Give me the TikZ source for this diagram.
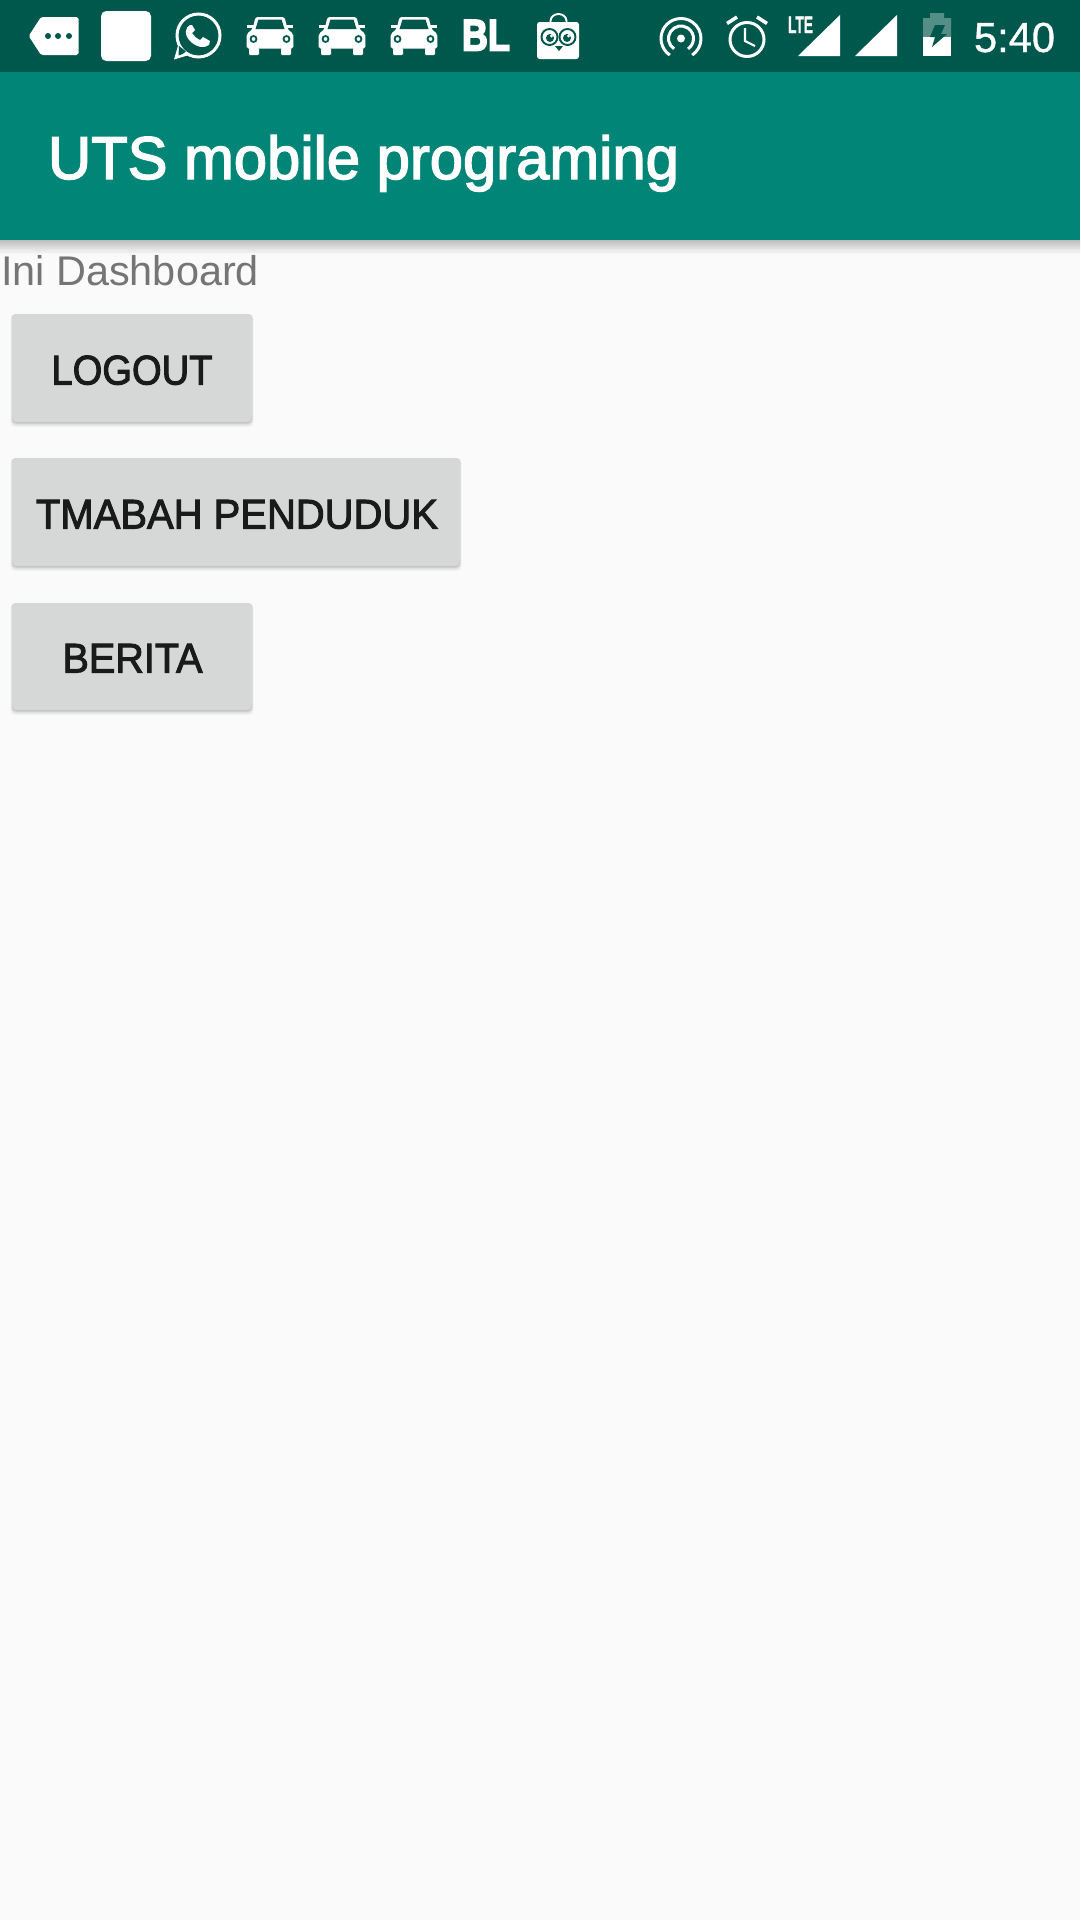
\documentclass[tikz,border=0pt]{standalone}
\usepackage{fontspec}
\setmainfont{Liberation Sans}
\newfontfamily\regfont[FakeBold=0.8]{Liberation Sans}
\newfontfamily\medfont[FakeBold=2.4]{Liberation Sans}
\newfontfamily\boldfont[FakeBold=1.5]{Liberation Sans Bold}
\newfontfamily\heavyfont[FakeBold=4]{Liberation Sans Bold}
\definecolor{statusbar}{HTML}{00574B}
\definecolor{appbar}{HTML}{008577}
\definecolor{pagebg}{HTML}{FAFAFA}
\definecolor{btnfill}{HTML}{D6D7D7}
\definecolor{btntext}{HTML}{1A1A1A}
\definecolor{labelgray}{HTML}{757575}
\newlength\pxu \setlength\pxu{0.02cm}
\newcommand{\fitw}[2]{\resizebox{#1\pxu}{\height}{#2}}
\tikzset{
  x=0.02cm,y=-0.02cm,
  txt/.style={inner sep=0pt,outer sep=0pt,anchor=base west},
  btn/.style={fill=btnfill,rounded corners=2.5pt,draw=none},
  ring/.style={draw=white,line width=1.7pt,fill=none},
}
\newcommand{\carat}[1]{%
\begin{scope}[shift={(#1,0)}]
\fill[white,rounded corners=1pt] (-23.3,48.5)--(-23.3,34)--(-17.5,29)--(-14.5,17)--(14.5,17)--(17.5,29)--(23.3,34)--(23.3,48.5)--cycle;
\fill[white] (-23,25) rectangle (-16,28);
\fill[white] (16,25) rectangle (23,28);
\fill[statusbar] (-14.5,29)--(-11.5,19.5)--(11.5,19.5)--(14.5,29)--cycle;
\draw[statusbar,line width=1pt,fill=white] (-16.5,39) circle (3);
\draw[statusbar,line width=1pt,fill=white] (16.5,39) circle (3);
\fill[white,rounded corners=0.6pt] (-21,48)--(-21,55)--(-11,55)--(-11,48)--cycle;
\fill[white,rounded corners=0.6pt] (11,48)--(11,55)--(21,55)--(21,48)--cycle;
\end{scope}}
\begin{document}
\begin{tikzpicture}
\useasboundingbox (0,0) rectangle (1080,1920);
\fill[pagebg] (0,0) rectangle (1080,1920);
% app bar shadow
\shade[top color=black!24!pagebg,bottom color=pagebg] (0,240) rectangle (1080,254);
\fill[appbar] (0,72) rectangle (1080,240);
\fill[statusbar] (0,0) rectangle (1080,72);
% title
\node[txt,text=white,font=\medfont\fontsize{34.4}{40}\selectfont] (title) at (48,179) {\fitw{631}{UTS mobile programing}};
\node[txt,text=labelgray,font=\fontsize{23.6}{28}\selectfont] (lbl) at (1,285) {\fitw{258}{Ini Dashboard}};
% buttons
\foreach \xa/\xb/\ya/\yb in {12/252/314/422,12/460/458/566,12/252/603/710}{
 \foreach \d/\e/\o in {5/1.5/3,4/1/4,2.5/.5/6,1.5/0/8}{\fill[black,opacity=0.0\o,rounded corners=2.5pt] (\xa-\e,\ya) rectangle (\xb+\e,\yb+\d);}
 \fill[btn] (\xa,\ya) rectangle (\xb,\yb);
}
\node[txt,text=btntext,font=\medfont\fontsize{23.6}{28}\selectfont] (b1) at (51.5,384.5) {\fitw{161}{LOGOUT}};
\node[txt,text=btntext,font=\medfont\fontsize{23.6}{28}\selectfont] (b2) at (36,528.5) {\fitw{402}{TMABAH PENDUDUK}};
\node[txt,text=btntext,font=\medfont\fontsize{23.6}{28}\selectfont] (b3) at (62.5,672.5) {\fitw{140}{BERITA}};
% tag icon
\fill[white,rounded corners=1pt] (28.7,36)--(41,17)--(78.5,17)--(78.5,55)--(41,55)--cycle;
\foreach \x in {48,58,69}{\fill[statusbar] (\x,36) circle (3);}
% white square
\fill[white,rounded corners=3pt] (101,11) rectangle (151,61);
% whatsapp
\fill[white] (174,59.5)--(178.5,44)--(189,55)--cycle;
\draw[ring,fill=statusbar] (198.5,35.5) circle (21.5);
\fill[statusbar] (179,46)--(186,51.5)--(182.5,54)--(178.5,55.5)--cycle;
\fill[white] (190,25)..controls (185,27) and (184,35)..(190,41)..controls (196,47) and (204,49)..(209,45)--(210,41)--(203,37)--(200,40)..controls (196,38) and (194,36)..(192,33)--(195,30)--(192,25)--cycle;
% cars
\carat{270}\carat{342}\carat{414}
% BL
\node[txt,text=white,font=\heavyfont\fontsize{25.2}{28}\selectfont] (bl) at (462,50.5) {\fitw{48}{BL}};
% bag with owl
\draw[white,line width=1.1pt] (550.5,24) -- (550.5,21) arc (180:360:8 and 7) -- (566.5,24);
\fill[white,rounded corners=1.5pt] (537,22) rectangle (579,59);
\draw[statusbar,line width=1.1pt,fill=white] (549.5,37) circle (8);
\draw[statusbar,line width=1.1pt,fill=white] (567.5,37) circle (8);
\fill[statusbar] (550,38) circle (4);
\fill[statusbar] (567,38) circle (4);
\fill[white] (551.5,36) circle (1.6);
\fill[white] (568.5,36) circle (1.6);
\fill[statusbar] (555,46)--(563,46)--(559,51)--cycle;
% hotspot
\fill[white] (681,38.5) circle (4);
\draw[ring] ([shift={(124:12.5)}]681,38.5) arc (124:416:12.5);
\draw[ring] ([shift={(124:20)}]681,38.5) arc (124:416:20);
% alarm
\draw[ring] (747,39.5) circle (17);
\draw[ring,line width=1.2pt] (745,28)--(745,41)--(755,46);
\draw[ring,line width=2pt] (727,23.5)--(737,17);
\draw[ring,line width=2pt] (767,23.5)--(757,17);
% LTE
\node[txt,text=white,font=\boldfont\fontsize{13.5}{14}\selectfont] (lte) at (788,33) {\fitw{25}{LTE}};
% signal
\fill[white] (798,56)--(840,15)--(840,56)--cycle;
\fill[white] (855,56)--(897,15)--(897,56)--cycle;
% battery
\fill[white,opacity=0.33] (930,13) -- (944,13) -- (944,18) -- (951,18) -- (951,37) -- (923,37) -- (923,18) -- (930,18) -- cycle;
\fill[white] (923,37) rectangle (951,56);
\fill[statusbar] (935,25)--(945,25)--(941,34)--(947,34)--(932,47)--(935,37)--(930,37)--cycle;
% time
\node[txt,text=white,font=\regfont\fontsize{23.9}{28}\selectfont] (time) at (974,52) {\fitw{81}{5:40}};
\end{tikzpicture}
\end{document}
